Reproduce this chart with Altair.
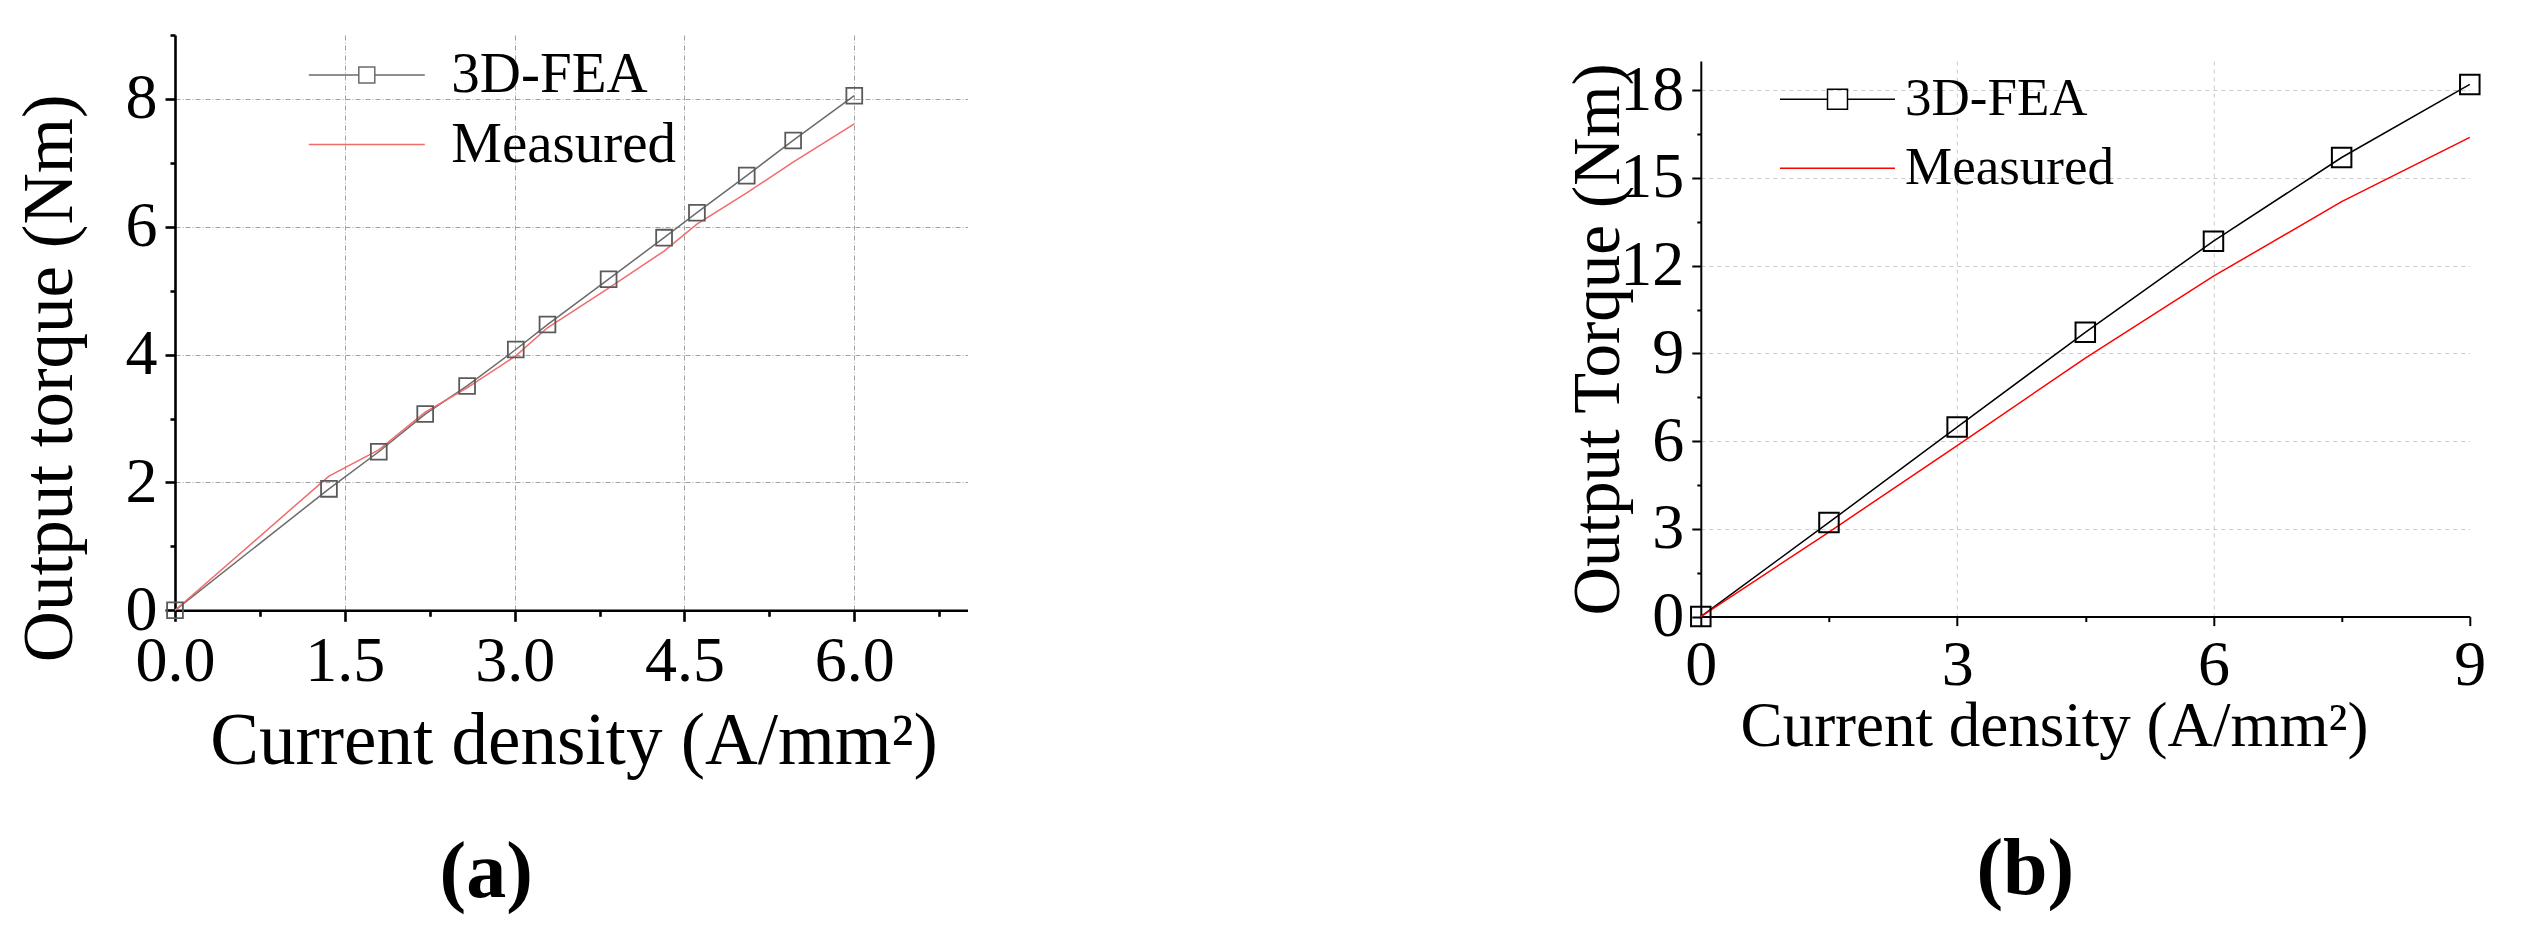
import altair as alt
import pandas as pd

FONT = "Liberation Serif"

# ---------------- data: panel (a) ----------------
a_density = [0, 1.36, 1.80, 2.21, 2.58, 3.01, 3.29, 3.83, 4.32, 4.61, 5.05, 5.46, 6.0]
a_fea = [0, 1.90, 2.48, 3.07, 3.51, 4.08, 4.47, 5.18, 5.83, 6.22, 6.80, 7.35, 8.05]
a_measured = [0, 2.10, 2.51, 3.10, 3.48, 3.98, 4.42, 5.04, 5.62, 6.04, 6.53, 7.01, 7.61]

# ---------------- data: panel (b) ----------------
b_density = [0, 1.5, 3, 4.5, 6, 7.5, 9]
b_fea = [0, 3.22, 6.48, 9.72, 12.84, 15.70, 18.2]
b_measured = [0, 2.89, 5.85, 8.84, 11.64, 14.19, 16.39]

series_names = ["3D-FEA", "Measured"]
a_colors = ["#6b6b6b", "#f26b6b"]
b_colors = ["#000000", "#ff0000"]

a_xticks = [i * 0.75 for i in range(10)]
a_yticks = list(range(10))
b_xticks = [i * 1.5 for i in range(7)]
b_yticks = [i * 1.5 for i in range(13)]


def long_df(xs, fea, meas):
    return pd.DataFrame({
        "x": xs + xs,
        "y": fea + meas,
        "s": [series_names[0]] * len(xs) + [series_names[1]] * len(xs),
    })


dfa = long_df(a_density, a_fea, a_measured)
dfb = long_df(b_density, b_fea, b_measured)


def cond(test, a, b):
    return {"condition": {"test": test, "value": a}, "value": b}


def legend_paths(half_len, half_sq):
    L, q = round(half_len, 3), round(half_sq, 3)
    marked = f"M-{L},0H-{q}M{q},0H{L}M-{q},-{q}H{q}V{q}H-{q}Z"
    plain = f"M-{L},0H{L}"
    return marked, plain


def make_panel(df, colors, xdom, ydom, xticks, yticks, xstep, ystep, xfmt, yfmt,
               w, h, ytitle, xtitle, ytx, yty, xtx, xty, ytfs, xtfs, lfs, dw,
               xmaj, xmin, ymaj, ymin, gcol, gdash,
               leg_x, leg_y, leg_fs, leg_len, leg_sq, leg_off, leg_pad, leg_sw,
               msize, mcolor, mwidth, letter, letter_dx, letter_off):
    xtest = f"abs(datum.value / {xstep} - round(datum.value / {xstep})) < 1e-6"
    ytest = f"abs(datum.value / {ystep} - round(datum.value / {ystep})) < 1e-6"
    x_axis = alt.Axis(
        title=xtitle, values=xticks,
        labelExpr=f"{xtest} ? format(datum.value, '{xfmt}') : ''",
        labelFont=FONT, labelFontSize=cond(xtest, lfs, 0), labelColor="black", labelPadding=8,
        labelFlush=False, labelOverlap=False,
        tickColor="black", tickWidth=dw,
        tickSize=cond(xtest, xmaj, xmin),
        domainColor="black", domainWidth=dw,
        grid=True, gridColor=gcol, gridDash=gdash, gridWidth=1,
        gridOpacity=cond(f"{xtest} && datum.value > 0 && datum.value < {xdom[1] - 1e-6}", 1, 0),
        titleFont=FONT, titleFontSize=xtfs, titleFontWeight="normal", titleColor="black",
        titleX=xtx, titleY=xty, titleAlign="center", titleBaseline="alphabetic",
    )
    y_axis = alt.Axis(
        title=ytitle, values=yticks,
        labelExpr=f"{ytest} ? format(datum.value, '{yfmt}') : ''",
        labelFont=FONT, labelFontSize=cond(ytest, lfs, 0), labelColor="black", labelPadding=8,
        labelFlush=False, labelOverlap=False,
        tickColor="black", tickWidth=dw,
        tickSize=cond(ytest, ymaj, ymin),
        domainColor="black", domainWidth=dw,
        grid=True, gridColor=gcol, gridDash=gdash, gridWidth=1,
        gridOpacity=cond(f"{ytest} && datum.value > 0", 1, 0),
        titleFont=FONT, titleFontSize=ytfs, titleFontWeight="normal", titleColor="black",
        titleX=ytx, titleY=yty, titleAngle=270, titleAlign="center", titleBaseline="middle",
    )
    xenc = alt.X("x:Q", scale=alt.Scale(domain=xdom, nice=False, zero=False), axis=x_axis)
    yenc = alt.Y("y:Q", scale=alt.Scale(domain=ydom, nice=False, zero=False), axis=y_axis)

    # legend symbol: nominal size = label font size, path drawn wider than its unit box
    side = leg_fs - leg_sw
    r = side / 2.0
    marked, plain = legend_paths(leg_len / 2.0 / r, leg_sq / 2.0 / r)
    shape_expr = f"datum.value === '{series_names[0]}' ? '{marked}' : '{plain}'"
    legend = alt.Legend(
        title=None, orient="none", legendX=leg_x, legendY=leg_y, direction="vertical",
        padding=0, symbolSize=side * side, symbolStrokeWidth=leg_sw,
        symbolType=alt.ExprRef(shape_expr),
        labelFont=FONT, labelFontSize=leg_fs, labelColor="black", labelLimit=600,
        labelOffset=leg_off, rowPadding=leg_pad,
    )
    lines = alt.Chart(df).mark_line(strokeWidth=1.5).encode(
        x=xenc, y=yenc,
        color=alt.Color("s:N", scale=alt.Scale(domain=series_names, range=colors), legend=legend),
    )
    pts = alt.Chart(df[df["s"] == series_names[0]]).mark_point(
        shape="square", filled=False, size=msize, color=mcolor, strokeWidth=mwidth, opacity=1
    ).encode(x="x:Q", y="y:Q")
    return alt.layer(lines, pts).properties(
        width=w, height=h,
        title=alt.TitleParams(letter, orient="bottom", anchor="middle", frame="group",
                              font=FONT, fontSize=80, fontWeight="bold", color="black",
                              dx=letter_dx, offset=letter_off),
    )


left = make_panel(
    dfa, a_colors, [0, 7], [0, 9], a_xticks, a_yticks, 1.5, 2, ".1f", "d",
    792.5, 575.3, "Output torque (Nm)", "Current density (A/mm²)",
    -124.5, 342.8, 398.5, 153, 71, 73, 64, 2.6,
    11, 6, 10, 5, "#a0a0a0", [5, 2, 1, 2],
    163.3, 11.5, 57, 116, 16, 56, 11.5, 1.5,
    250, "#5a5a5a", 1.8, "(a)", -85, 56,
)

right = make_panel(
    dfb, b_colors, [0, 9], [0, 19], b_xticks, b_yticks, 3, 3, "d", "d",
    769, 555.6, "Output Torque (Nm)", "Current density (A/mm²)",
    -102, 277.8, 353.2, 129.2, 67, 63, 64, 2,
    9, 5, 9, 4, "#c8c8c8", [4, 4],
    110.2, 37.8, 53, 115, 20, 41, 15, 1.5,
    380, "#000000", 2, "(b)", -60, 72,
)

spacer = alt.Chart(pd.DataFrame({"v": [0]})).mark_point(opacity=0).encode(
    x=alt.X("v:Q", axis=None), y=alt.Y("v:Q", axis=None)
).properties(width=769, height=25.5)

right_col = alt.vconcat(spacer, right, spacing=0, bounds="flush")

chart = alt.hconcat(left, right_col, spacing=732.8, bounds="flush").resolve_scale(
    color="independent"
).resolve_legend(color="independent").properties(
    padding={"left": 6, "top": 25, "right": 5, "bottom": 5},
    background="white",
).configure_view(stroke=None)

chart.save("out.html", embed_options={"renderer": "svg", "actions": False})
